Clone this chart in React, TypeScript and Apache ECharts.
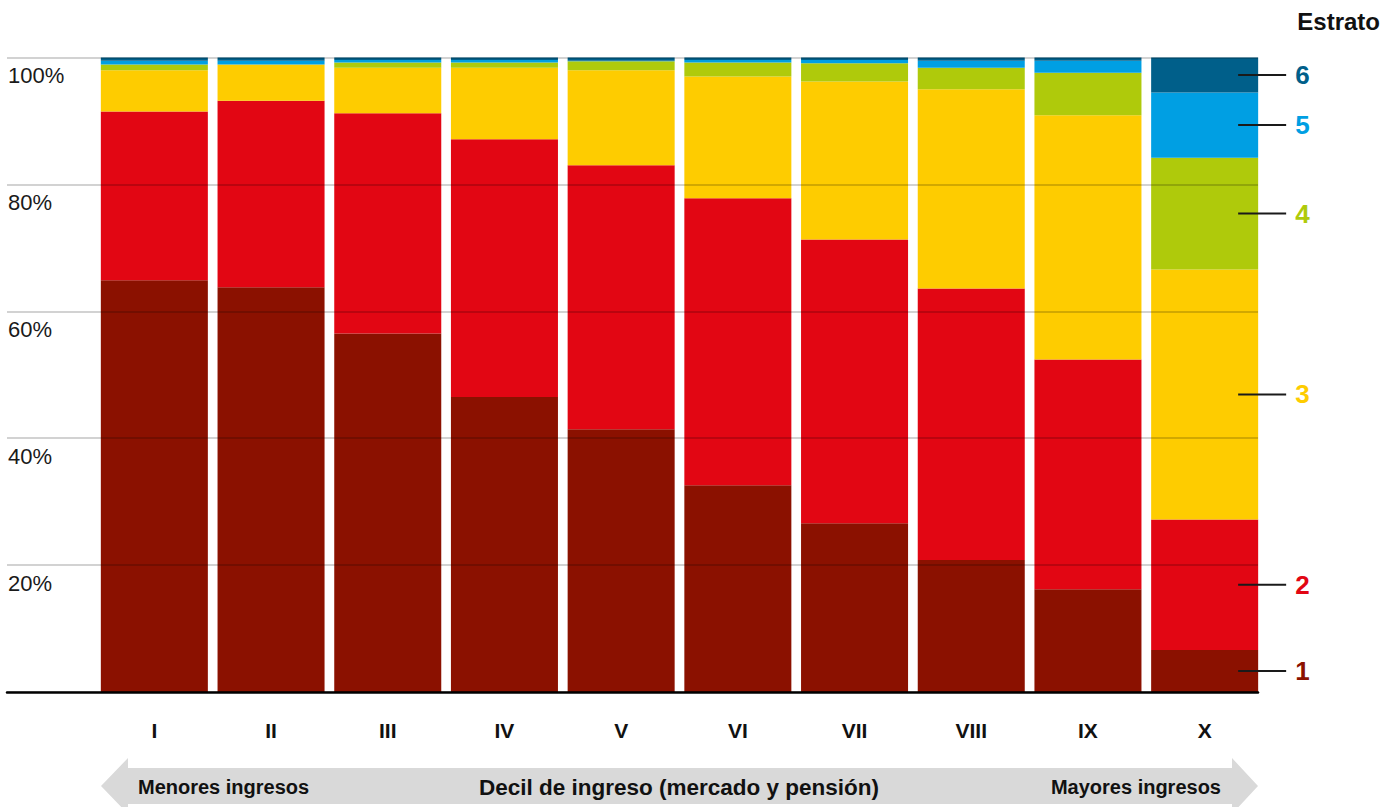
import React, { useEffect, useRef } from "react";
import * as echarts from "echarts";

// Income deciles (market income + pensions)
const deciles = ["I", "II", "III", "IV", "V", "VI", "VII", "VIII", "IX", "X"];

// Share (%) of each socioeconomic stratum within every decile
const estrato1 = [64.9, 63.8, 56.5, 46.5, 41.4, 32.6, 26.6, 20.8, 16.2, 6.6];
const estrato2 = [26.6, 29.4, 34.7, 40.6, 41.6, 45.2, 44.7, 42.8, 36.2, 20.6];
const estrato3 = [6.5, 5.7, 7.2, 11.3, 15.0, 19.2, 24.9, 31.4, 38.5, 39.4];
const estrato4 = [0.9, 0.0, 0.8, 0.8, 1.4, 2.2, 2.9, 3.4, 6.7, 17.6];
const estrato5 = [0.6, 0.6, 0.4, 0.4, 0.1, 0.4, 0.5, 1.1, 1.9, 10.3];
const estrato6 = [0.5, 0.5, 0.4, 0.4, 0.5, 0.4, 0.4, 0.5, 0.5, 5.5];

const estratoNames = ["1", "2", "3", "4", "5", "6"];
const estratoValues = [estrato1, estrato2, estrato3, estrato4, estrato5, estrato6];
const estratoColors = ["#8b1100", "#e20613", "#fecc00", "#afca0b", "#009fe3", "#005f8a"];

const yTicks = [0, 20, 40, 60, 80, 100];

const FONT = "'Liberation Sans', Arial, sans-serif";

export default function App() {
  const ref = useRef<HTMLDivElement>(null);

  useEffect(() => {
    if (!ref.current) return;
    const chart = echarts.init(ref.current, undefined, { renderer: "svg" });

    const lastIdx = deciles.length - 1;

    const series = estratoNames.map((name, si) => ({
      name,
      type: "bar",
      stack: "total",
      xAxisIndex: 0,
      yAxisIndex: 0,
      barCategoryGap: "8.3%",
      itemStyle: { color: estratoColors[si] },
      emphasis: { disabled: true },
      z: 2,
      data: estratoValues[si].map((v, i) =>
        i === lastIdx
          ? {
              value: v,
              label: {
                show: true,
                position: [87, "50%"],
                align: "left",
                verticalAlign: "middle",
                formatter: `{ln|}{n|${name}}`,
                rich: {
                  ln: { width: 48, height: 2, backgroundColor: "#1a1a1a" },
                  n: {
                    fontFamily: FONT,
                    fontWeight: "bold",
                    fontSize: 26,
                    color: estratoColors[si],
                    padding: [0, 0, 0, 9],
                  },
                },
              },
            }
          : v
      ),
    }));

    chart.setOption({
      animation: false,
      grid: [
        { left: 96, top: 57.5, width: 1167, height: 634.5 },
        { left: 7, top: 57.5, width: 1251, height: 634.5 },
      ],
      xAxis: [
        {
          type: "category",
          gridIndex: 0,
          data: deciles,
          axisLine: { show: false },
          axisTick: { show: false },
          axisLabel: {
            margin: 28,
            fontFamily: FONT,
            fontWeight: "bold",
            fontSize: 21,
            color: "#111",
          },
        },
        {
          type: "value",
          gridIndex: 1,
          min: 0,
          max: 1,
          z: 3,
          axisLine: { show: true, onZero: true, lineStyle: { color: "#000", width: 2.5 } },
          axisTick: { show: false },
          axisLabel: { show: false },
          splitLine: { show: false },
        },
      ],
      yAxis: [
        {
          type: "value",
          gridIndex: 0,
          min: 0,
          max: 100,
          show: false,
        },
        {
          type: "value",
          gridIndex: 1,
          min: yTicks[0],
          max: yTicks[yTicks.length - 1],
          interval: 20,
          z: 3,
          axisLine: { show: false },
          axisTick: { show: false },
          splitLine: { show: true, lineStyle: { color: "rgba(0,0,0,0.24)", width: 1.5 } },
          axisLabel: {
            inside: true,
            margin: 1,
            align: "left",
            verticalAlign: "top",
            padding: [7, 0, 0, 0],
            fontFamily: FONT,
            fontSize: 22,
            color: "#1a1a1a",
            showMinLabel: false,
            formatter: (v: number) => (v === 0 ? "" : `${v}%`),
          },
        },
      ],
      series,
      graphic: [
        {
          type: "text",
          right: 4,
          top: 9,
          style: {
            text: "Estrato",
            font: `bold 24px ${FONT}`,
            fill: "#111",
          },
        },
        {
          type: "polygon",
          silent: true,
          shape: {
            points: [
              [101, 786],
              [128, 758],
              [128, 768],
              [1232, 768],
              [1232, 758],
              [1258, 786],
              [1232, 814],
              [1232, 804],
              [128, 804],
              [128, 814],
            ],
          },
          style: { fill: "#d9d9d9" },
        },
        {
          type: "text",
          x: 138,
          y: 787,
          style: {
            text: "Menores ingresos",
            font: `bold 20px ${FONT}`,
            fill: "#111",
            align: "left",
            verticalAlign: "middle",
          },
        },
        {
          type: "text",
          x: 679,
          y: 787,
          style: {
            text: "Decil de ingreso (mercado y pensión)",
            font: `bold 22.5px ${FONT}`,
            fill: "#111",
            align: "center",
            verticalAlign: "middle",
          },
        },
        {
          type: "text",
          x: 1221,
          y: 787,
          style: {
            text: "Mayores ingresos",
            font: `bold 20px ${FONT}`,
            fill: "#111",
            align: "right",
            verticalAlign: "middle",
          },
        },
      ],
    });

    return () => chart.dispose();
  }, []);

  return (
    <div
      ref={ref}
      style={{ position: "fixed", left: 0, top: 0, width: 1384, height: 807, background: "#fff" }}
    />
  );
}
